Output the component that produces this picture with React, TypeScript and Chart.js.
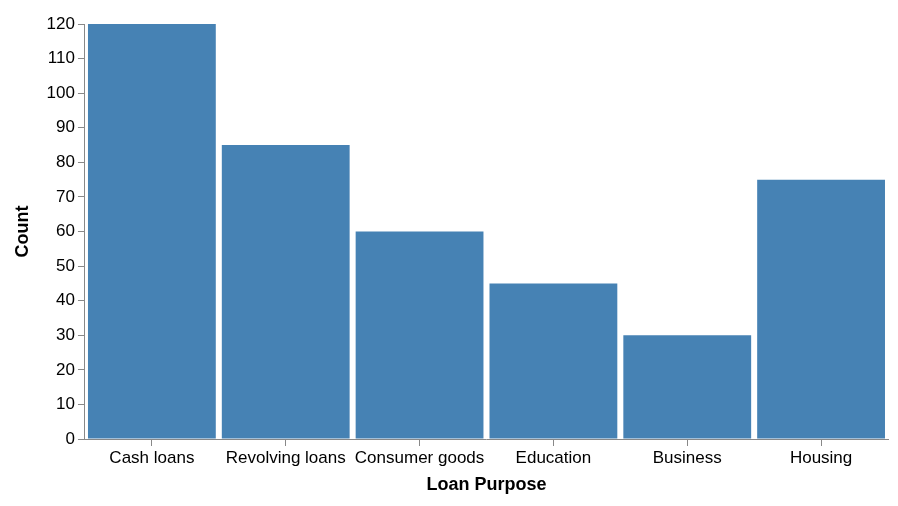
import React, { useEffect, useRef } from 'react';
import { Chart, registerables } from 'chart.js';

Chart.register(...registerables);

const categories = ['Cash loans', 'Revolving loans', 'Consumer goods', 'Education', 'Business', 'Housing'];
const counts = [120, 85, 60, 45, 30, 75];

const App: React.FC = () => {
    const chartRef = useRef<HTMLCanvasElement | null>(null);

    useEffect(() => {
        if (!chartRef.current) return;
        const font = { family: 'Liberation Sans, Arial, sans-serif', size: 17 };
        const chart = new Chart(chartRef.current, {
            type: 'bar',
            data: {
                labels: categories,
                datasets: [{
                    data: counts,
                    backgroundColor: '#4682b4',
                    barPercentage: 0.955,
                    categoryPercentage: 1,
                }],
            },
            options: {
                animation: false,
                responsive: true,
                maintainAspectRatio: false,
                layout: { padding: { top: 24, right: 10, left: 8, bottom: 6 } },
                plugins: { legend: { display: false }, tooltip: { enabled: false } },
                scales: {
                    x: {
                        grid: { drawOnChartArea: false, offset: false, tickLength: 7, color: '#888' },
                        border: { color: '#888' },
                        ticks: { color: '#000', font, maxRotation: 0, autoSkip: false, padding: 2 },
                        title: { display: true, text: 'Loan Purpose', color: '#000', font: { ...font, size: 18, weight: 'bold' }, padding: { top: 4 } },
                    },
                    y: {
                        min: 0,
                        max: 120,
                        ticks: { stepSize: 10, color: '#000', font, padding: 3 },
                        grid: { drawOnChartArea: false, tickLength: 7, color: '#888' },
                        border: { color: '#888' },
                        title: { display: true, text: 'Count', color: '#000', font: { ...font, size: 18, weight: 'bold' }, padding: { bottom: 10 } },
                    },
                },
            },
        });
        return () => chart.destroy();
    }, []);

    return (
        <div style={{ position: 'fixed', left: 0, top: 0, width: 898, height: 506, background: '#fff' }}>
            <canvas ref={chartRef} />
        </div>
    );
};

export default App;
